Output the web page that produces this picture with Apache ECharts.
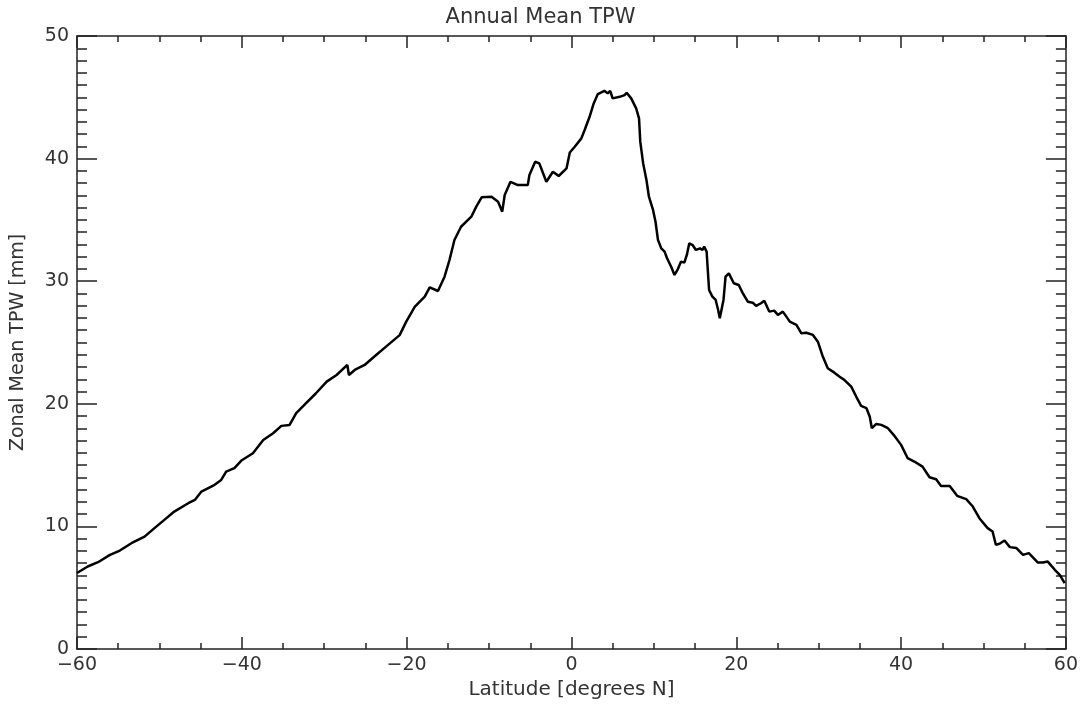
<!DOCTYPE html>
<html>
<head>
<meta charset="utf-8">
<script src="https://cdn.jsdelivr.net/npm/echarts@6/dist/echarts.min.js"></script>
<style>
html,body{margin:0;padding:0;background:#fff;}
#chart{width:1081px;height:706px;}
</style>
</head>
<body>
<div id="chart"></div>
<script>
const titleText = "Annual Mean TPW";
const xName = "Latitude [degrees N]";
const yName = "Zonal Mean TPW [mm]";

const latitude = [
  -60, -59.9, -58.7, -57.45, -56.0, -54.8, -53.4, -51.8, -50.6, -49.4, -48.2, -46.5, -45.7, -44.9, -43.3, -42.5, -41.9, -40.9,
  -40.0, -38.65, -37.4, -36.2, -35.2, -34.2, -33.4, -32.2, -31.0, -29.7, -28.5, -27.2, -27.0, -26.3, -25.1, -23.7, -22.5, -20.85,
  -20.05, -19.0, -17.8, -17.2, -16.2, -15.4, -14.8, -14.2, -13.4, -12.15, -11.55, -10.9, -9.7, -8.9, -8.4, -8.1, -7.4, -6.5,
  -5.3, -5.1, -4.4, -3.9, -3.05, -2.25, -1.55, -0.6, -0.2,
  0.4, 1.2, 1.6, 2.2, 2.7, 3.2, 4.0, 4.4, 4.7, 5.0, 5.85, 6.45, 6.7, 7.25, 7.85, 8.2, 8.35, 8.7, 9.1, 9.4, 9.9, 10.2, 10.5,
  10.9, 11.3, 11.6, 12.1, 12.5, 12.9, 13.3, 13.7, 14.0, 14.3, 14.7, 15.1, 15.6, 15.9, 16.1, 16.4, 16.7, 17.1, 17.5, 17.8,
  18.0, 18.2, 18.45, 18.7, 19.1, 19.7, 20.3,
  20.8, 21.4, 22.0, 22.4, 23.0, 23.4, 24.0, 24.6, 25.05, 25.65, 26.5, 27.3, 27.9, 28.5, 29.3, 29.9, 30.5, 31.1, 31.9, 32.5,
  33.1, 33.95, 34.55, 35.15, 35.8, 36.2, 36.45, 37.0, 37.6, 38.4, 39.2,
  40.0, 40.8, 41.6, 42.6, 43.45, 44.25, 44.85, 45.9, 46.8, 47.9, 48.7, 49.5, 50.5, 51.1, 51.5, 51.95, 52.55, 53.2, 54.0,
  54.8, 55.5, 56.6, 57.2, 57.8, 58.65, 59.25, 59.85
];

const tpw = [
  6.2, 6.24, 6.73, 7.08, 7.68, 8.03, 8.63, 9.17, 9.86, 10.53, 11.21, 11.89, 12.16, 12.84, 13.39, 13.79, 14.47, 14.75,
  15.4, 15.97, 17.05, 17.6, 18.2, 18.28, 19.23, 20.05, 20.86, 21.81, 22.35, 23.17, 22.35, 22.76, 23.17, 23.98, 24.66, 25.6,
  26.7, 27.92, 28.74, 29.5, 29.2, 30.37, 31.73, 33.36, 34.44, 35.26, 36.08, 36.84, 36.89, 36.48, 35.67, 37.03, 38.11, 37.84,
  37.84, 38.66, 39.74, 39.61, 38.11, 38.93, 38.58, 39.2, 40.5,
  40.97, 41.65, 42.33, 43.41, 44.5, 45.26, 45.53, 45.32, 45.53, 44.91, 45.04, 45.18, 45.37, 44.91, 44.1, 43.28, 41.38,
  39.61, 38.25, 36.89, 35.81, 34.85, 33.36,
  32.68, 32.41, 31.87, 31.18, 30.51, 30.97, 31.6, 31.51, 32.14, 33.09, 32.95, 32.55, 32.68, 32.55, 32.82, 32.41, 29.28,
  28.74, 28.47, 27.65,
  26.98, 26.84, 28.47, 30.37, 30.64, 29.83, 29.69,
  29.01, 28.33, 28.25, 27.98, 28.2, 28.41, 27.52, 27.6, 27.25, 27.52, 26.7, 26.43, 25.75, 25.8, 25.62, 25.07, 23.85, 22.9,
  22.54, 22.22, 21.95, 21.4, 20.59, 19.83, 19.64, 18.95, 18.01, 18.36, 18.28, 18.01, 17.38,
  16.65, 15.56, 15.29, 14.88, 14.01, 13.85, 13.3, 13.3, 12.49, 12.22, 11.62, 10.67, 9.86, 9.58, 8.5, 8.58, 8.85, 8.31, 8.23,
  7.68, 7.82, 7.05, 7.05, 7.13, 6.46, 6.05, 5.37
];

const xMin = -60, xMax = 60, xStep = 20;
const yMin = 0, yMax = 50, yStep = 10;

const FONT = "DejaVu Sans";
const TXT = "#333";
const AX = "#222";

function fmtMinus(v){ return String(v).replace('-', '\u2212'); }

function xAxisCfg(pos, showLabel){
  return {
    type: 'value', position: pos, min: xMin, max: xMax, interval: xStep,
    axisLine: {show: true, onZero: false, lineStyle: {color: AX, width: 1.5}},
    axisTick: {show: true, inside: true, length: 12, lineStyle: {color: AX, width: 1.5}},
    minorTick: {show: true, splitNumber: 4, length: 6, lineStyle: {color: AX, width: 1.5}},
    splitLine: {show: false},
    axisLabel: {show: showLabel, color: TXT, fontFamily: FONT, fontSize: 19, margin: 7, formatter: fmtMinus},
    name: showLabel ? xName : '', nameLocation: 'middle', nameGap: 31,
    nameTextStyle: {color: TXT, fontFamily: FONT, fontSize: 20}
  };
}
function yAxisCfg(pos, showLabel){
  return {
    type: 'value', position: pos, min: yMin, max: yMax, interval: yStep,
    axisLine: {show: true, onZero: false, lineStyle: {color: AX, width: 1.5}},
    axisTick: {show: true, inside: true, length: 20, lineStyle: {color: AX, width: 1.5}},
    minorTick: {show: true, splitNumber: 10, length: 10, lineStyle: {color: AX, width: 1.5}},
    splitLine: {show: false},
    axisLabel: {show: showLabel, color: TXT, fontFamily: FONT, fontSize: 19, margin: 8},
    name: showLabel ? yName : '', nameLocation: 'middle', nameGap: 49, nameRotate: 90,
    nameTextStyle: {color: TXT, fontFamily: FONT, fontSize: 19}
  };
}

const chart = echarts.init(document.getElementById('chart'), null, {renderer: 'canvas'});
chart.setOption({
  animation: false,
  backgroundColor: '#fff',
  title: {text: titleText, left: 'center', top: 2,
    textStyle: {color: TXT, fontFamily: FONT, fontSize: 21, fontWeight: 'normal'}},
  grid: {left: 77, right: 15, top: 36, bottom: 57, containLabel: false},
  xAxis: [xAxisCfg('bottom', true), xAxisCfg('top', false)],
  yAxis: [yAxisCfg('left', true), yAxisCfg('right', false)],
  series: [{
    type: 'line', xAxisIndex: 0, yAxisIndex: 0,
    data: latitude.map((x, i) => [x, tpw[i]]),
    showSymbol: false, symbol: 'none',
    lineStyle: {color: '#000', width: 2.5},
    smooth: false
  }]
});
</script>
</body>
</html>
